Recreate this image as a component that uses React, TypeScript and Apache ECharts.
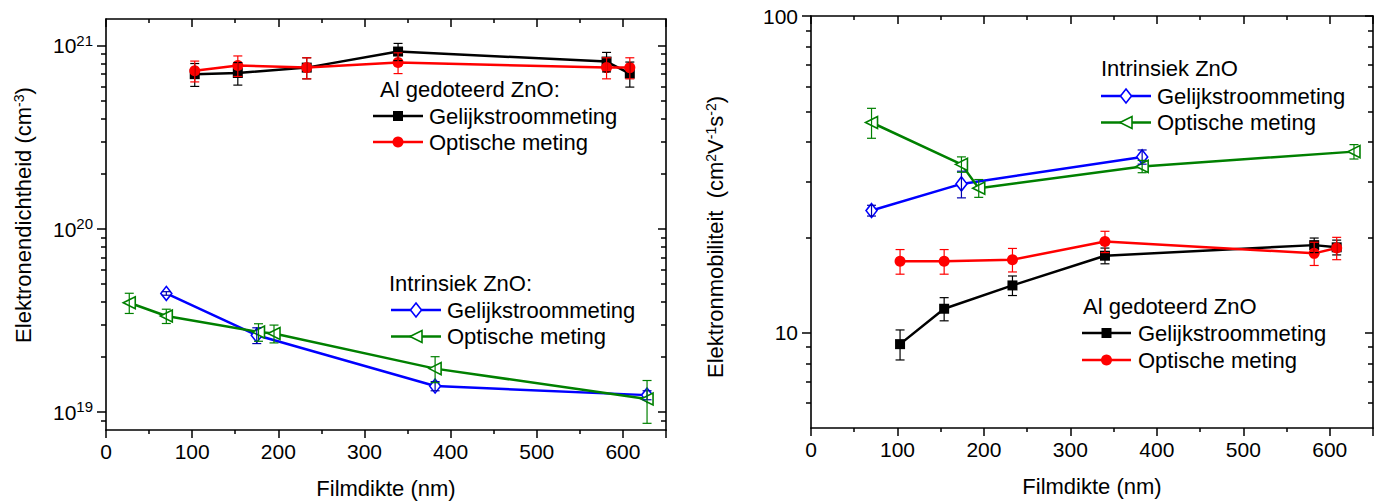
import React, { useEffect, useRef } from 'react';
import * as echarts from 'echarts';

const FONT = '"Liberation Sans", Arial, Helvetica, sans-serif';

// ---------- Left panel: electron density (cm^-3) ----------
const alThickness = [103, 153, 233, 339, 581, 608];
const alDcDensity = [7.0e20, 7.1e20, 7.6e20, 9.3e20, 8.2e20, 7.05e20];
const alDcDensityErr = [1.0e20, 1.0e20, 1.0e20, 1.0e20, 1.0e20, 1.1e20];
const alOptDensity = [7.3e20, 7.8e20, 7.6e20, 8.1e20, 7.6e20, 7.6e20];
const alOptDensityErr = [0.95e20, 1.0e20, 1.0e20, 1.05e20, 1.0e20, 1.0e20];

const inDcThicknessL = [70, 175, 382, 628];
const inDcDensity = [4.45e19, 2.63e19, 1.39e19, 1.24e19];
const inDcDensityErr = [0.1e19, 0.26e19, 0.08e19, 0.07e19];
const inOptThicknessL = [27, 70, 177, 195, 382, 628];
const inOptDensity = [3.96e19, 3.35e19, 2.74e19, 2.69e19, 1.73e19, 1.18e19];
const inOptDensityErr = [0.5e19, 0.3e19, 0.3e19, 0.3e19, 0.28e19, 0.31e19];

// ---------- Right panel: electron mobility (cm^2 V^-1 s^-1) ----------
const alThicknessR = [103, 154, 233, 340, 582, 608];
const alDcMobility = [9.2, 11.9, 14.1, 17.5, 18.9, 18.6];
const alDcMobilityErr = [1.0, 1.0, 1.0, 1.0, 1.0, 1.0];
const alOptMobility = [16.8, 16.8, 17.0, 19.4, 17.8, 18.5];
const alOptMobilityErr = [1.5, 1.5, 1.45, 1.5, 1.5, 1.5];

const inDcThicknessR = [70, 174, 383];
const inDcMobility = [24.3, 29.5, 35.9];
const inDcMobilityErr = [0.95, 2.85, 1.85];
const inOptThicknessR = [70, 174, 194, 383, 628];
const inOptMobility = [46.1, 34.0, 28.6, 33.5, 37.3];
const inOptMobilityErr = [5.0, 1.9, 1.85, 1.5, 1.95];

// ---------- Axis ticks ----------
const densityMajorTicks = [1e19, 1e20, 1e21];
const densityMinorTicks = [9e18, 2e19, 3e19, 4e19, 5e19, 6e19, 7e19, 8e19, 9e19, 2e20, 3e20, 4e20, 5e20, 6e20, 7e20, 8e20, 9e20];
const mobilityMajorTicks = [10, 100];
const mobilityMinorTicks = [6, 7, 8, 9, 20, 30, 40, 50, 60, 70, 80, 90];

const BLACK = '#000000';
const RED = '#ff0000';
const BLUE = '#0000ff';
const GREEN = '#008000';

const pairs = (xs: number[], ys: number[]) => xs.map((x, i) => [x, ys[i]]);
const errData = (xs: number[], ys: number[], es: number[]) =>
  xs.map((x, i) => [x, ys[i], ys[i] - es[i], ys[i] + es[i]]);

type Marker = 'square' | 'circle' | 'diamond' | 'triangle';

function lineSeries(name: string, xs: number[], ys: number[], g: number, color: string, marker: Marker) {
  const base: any = {
    type: 'line',
    name,
    xAxisIndex: g * 2,
    yAxisIndex: g * 4,
    data: pairs(xs, ys),
    lineStyle: { color, width: 2.5 },
    itemStyle: { color },
    showSymbol: true,
    symbol: 'rect',
    symbolSize: 10,
    z: 2,
  };
  if (marker === 'circle') {
    base.symbol = 'circle';
    base.symbolSize = 11;
  } else if (marker === 'diamond') {
    base.symbol = 'diamond';
    base.symbolSize = [11, 14];
    base.itemStyle = { color: '#ffffff', borderColor: color, borderWidth: 1.6 };
  } else if (marker === 'triangle') {
    base.symbol = 'triangle';
    base.symbolSize = 12;
    base.symbolRotate = 90;
    base.itemStyle = { color: '#ffffff', borderColor: color, borderWidth: 1.6 };
  }
  return base;
}

function errorSeries(xs: number[], ys: number[], es: number[], g: number, color: string) {
  return {
    type: 'custom',
    xAxisIndex: g * 2,
    yAxisIndex: g * 4,
    data: errData(xs, ys, es),
    encode: { x: 0, y: 1 },
    z: 3,
    silent: true,
    renderItem: (params: any, api: any) => {
      const x = api.value(0);
      const lo = api.coord([x, api.value(2)]);
      const hi = api.coord([x, api.value(3)]);
      const w = 4.5;
      const style = { stroke: color, lineWidth: 1.2, fill: 'none' };
      return {
        type: 'group',
        children: [
          { type: 'line', shape: { x1: lo[0], y1: lo[1], x2: hi[0], y2: hi[1] }, style },
          { type: 'line', shape: { x1: lo[0] - w, y1: lo[1], x2: lo[0] + w, y2: lo[1] }, style },
          { type: 'line', shape: { x1: hi[0] - w, y1: hi[1], x2: hi[0] + w, y2: hi[1] }, style },
        ],
      };
    },
  };
}

const axisLineStyle = { color: '#000', width: 1.6 };

function xAxes(g: number) {
  const common: any = {
    type: 'value',
    gridIndex: g,
    min: 0,
    max: 650,
    interval: 100,
    splitLine: { show: false },
    minorSplitLine: { show: false },
    axisLine: { show: true, lineStyle: axisLineStyle },
    minorTick: { show: true, splitNumber: 2, length: 4, lineStyle: { color: '#000', width: 1.5 } },
  };
  return [
    {
      ...common,
      position: 'bottom',
      axisTick: { show: true, inside: false, length: 8, lineStyle: { color: '#000', width: 1.5 } },
      axisLabel: { show: true, fontSize: 21, color: '#000', fontFamily: FONT, margin: 11, showMaxLabel: false },
      name: 'Filmdikte (nm)',
      nameLocation: 'middle',
      nameGap: 47,
      nameTextStyle: { fontSize: 22, color: '#000', fontFamily: FONT },
    },
    {
      ...common,
      position: 'top',
      axisTick: { show: true, inside: true, length: 8, lineStyle: { color: '#000', width: 1.5 } },
      axisLabel: { show: false },
    },
  ];
}

function yAxes(g: number, min: number, max: number, major: number[], minor: number[], formatter: any, rich: any) {
  const common: any = {
    type: 'log',
    logBase: 10,
    gridIndex: g,
    min,
    max,
    splitLine: { show: false },
    minorTick: { show: false },
    minorSplitLine: { show: false },
  };
  const tickStyle = { color: '#000', width: 1.5 };
  return [
    {
      ...common,
      position: 'left',
      axisLine: { show: true, lineStyle: axisLineStyle },
      axisTick: { show: true, inside: false, length: 9, customValues: major, lineStyle: tickStyle },
      axisLabel: {
        show: true,
        customValues: major,
        formatter,
        rich,
        fontSize: 21,
        color: '#000',
        fontFamily: FONT,
        margin: 13,
      },
    },
    {
      ...common,
      position: 'left',
      axisLine: { show: false },
      axisTick: { show: true, inside: false, length: 5, customValues: minor, lineStyle: tickStyle },
      axisLabel: { show: false },
    },
    {
      ...common,
      position: 'right',
      axisLine: { show: true, lineStyle: axisLineStyle },
      axisTick: { show: true, inside: true, length: 8, customValues: major, lineStyle: tickStyle },
      axisLabel: { show: false },
    },
    {
      ...common,
      position: 'right',
      axisLine: { show: false },
      axisTick: { show: true, inside: true, length: 5, customValues: minor, lineStyle: tickStyle },
      axisLabel: { show: false },
    },
  ];
}

function legendBlock(
  title: string,
  titleX: number,
  titleY: number,
  lineX1: number,
  lineX2: number,
  textX: number,
  rows: { label: string; y: number; color: string; marker: Marker }[]
) {
  const els: any[] = [
    {
      type: 'text',
      x: titleX,
      y: titleY,
      style: { text: title, fontSize: 22, fontFamily: FONT, fill: '#000', align: 'left', verticalAlign: 'middle' },
    },
  ];
  rows.forEach((r) => {
    const mx = (lineX1 + lineX2) / 2;
    const y = r.y;
    els.push({
      type: 'line',
      shape: { x1: lineX1, y1: y, x2: lineX2, y2: y },
      style: { stroke: r.color, lineWidth: 2.5 },
    });
    if (r.marker === 'square') {
      els.push({ type: 'rect', shape: { x: mx - 5, y: y - 5, width: 10, height: 10 }, style: { fill: r.color } });
    } else if (r.marker === 'circle') {
      els.push({ type: 'circle', shape: { cx: mx, cy: y, r: 5.5 }, style: { fill: r.color } });
    } else if (r.marker === 'diamond') {
      els.push({
        type: 'polygon',
        shape: { points: [[mx, y - 7], [mx + 5.5, y], [mx, y + 7], [mx - 5.5, y]] },
        style: { fill: '#fff', stroke: r.color, lineWidth: 1.6 },
      });
    } else {
      els.push({
        type: 'polygon',
        shape: { points: [[mx - 6, y], [mx + 6, y - 6], [mx + 6, y + 6]] },
        style: { fill: '#fff', stroke: r.color, lineWidth: 1.6 },
      });
    }
    els.push({
      type: 'text',
      x: textX,
      y,
      style: { text: r.label, fontSize: 22, fontFamily: FONT, fill: '#000', align: 'left', verticalAlign: 'middle' },
    });
  });
  return els;
}

const supRich = {
  b: { fontSize: 21, fontFamily: FONT, color: '#000', lineHeight: 26 },
  s: { fontSize: 15, fontFamily: FONT, color: '#000', lineHeight: 15, verticalAlign: 'top' },
};

const nameRich = {
  s: { fontSize: 14, fontFamily: FONT, fill: '#000', lineHeight: 14, verticalAlign: 'top' },
};

export default function App() {
  const ref = useRef<HTMLDivElement>(null);

  useEffect(() => {
    if (!ref.current) return;
    const chart = echarts.init(ref.current, undefined, { renderer: 'svg' });

    const option: any = {
      animation: false,
      backgroundColor: '#ffffff',
      textStyle: { fontFamily: FONT },
      grid: [
        { left: 106, top: 19, width: 560, height: 411 },
        { left: 811, top: 16, width: 562, height: 412 },
      ],
      xAxis: [...xAxes(0), ...xAxes(1)],
      yAxis: [
        ...yAxes(
          0,
          8e18,
          1.4e21,
          densityMajorTicks,
          densityMinorTicks,
          (v: number) => `{b|10}{s|${Math.round(Math.log10(v))}}`,
          supRich
        ),
        ...yAxes(1, 5, 100, mobilityMajorTicks, mobilityMinorTicks, (v: number) => `${Math.round(v)}`, undefined),
      ],
      series: [
        // left panel
        lineSeries('Gelijkstroommeting', alThickness, alDcDensity, 0, BLACK, 'square'),
        errorSeries(alThickness, alDcDensity, alDcDensityErr, 0, BLACK),
        lineSeries('Optische meting', alThickness, alOptDensity, 0, RED, 'circle'),
        errorSeries(alThickness, alOptDensity, alOptDensityErr, 0, RED),
        lineSeries('Gelijkstroommeting', inDcThicknessL, inDcDensity, 0, BLUE, 'diamond'),
        errorSeries(inDcThicknessL, inDcDensity, inDcDensityErr, 0, '#0000b0'),
        lineSeries('Optische meting', inOptThicknessL, inOptDensity, 0, GREEN, 'triangle'),
        errorSeries(inOptThicknessL, inOptDensity, inOptDensityErr, 0, GREEN),
        // right panel
        lineSeries('Gelijkstroommeting', alThicknessR, alDcMobility, 1, BLACK, 'square'),
        errorSeries(alThicknessR, alDcMobility, alDcMobilityErr, 1, BLACK),
        lineSeries('Optische meting', alThicknessR, alOptMobility, 1, RED, 'circle'),
        errorSeries(alThicknessR, alOptMobility, alOptMobilityErr, 1, RED),
        lineSeries('Gelijkstroommeting', inDcThicknessR, inDcMobility, 1, BLUE, 'diamond'),
        errorSeries(inDcThicknessR, inDcMobility, inDcMobilityErr, 1, '#0000b0'),
        lineSeries('Optische meting', inOptThicknessR, inOptMobility, 1, GREEN, 'triangle'),
        errorSeries(inOptThicknessR, inOptMobility, inOptMobilityErr, 1, GREEN),
      ],
      graphic: [
        // y-axis names
        {
          type: 'text',
          x: 23,
          y: 215,
          rotation: Math.PI / 2,
          style: {
            text: 'Elektronendichtheid (cm{s|-3})',
            rich: nameRich,
            fontSize: 22,
            fontFamily: FONT,
            fill: '#000',
            align: 'center',
            verticalAlign: 'middle',
          },
        },
        {
          type: 'text',
          x: 715,
          y: 237,
          rotation: Math.PI / 2,
          style: {
            text: 'Elektronmobiliteit  (cm{s|2}V{s|-1}s{s|-2})',
            rich: nameRich,
            fontSize: 22,
            fontFamily: FONT,
            fill: '#000',
            align: 'center',
            verticalAlign: 'middle',
          },
        },
        ...legendBlock('Al gedoteerd ZnO:', 380, 89, 373, 423, 429, [
          { label: 'Gelijkstroommeting', y: 116, color: BLACK, marker: 'square' },
          { label: 'Optische meting', y: 142, color: RED, marker: 'circle' },
        ]),
        ...legendBlock('Intrinsiek ZnO:', 389, 283, 391, 441, 447, [
          { label: 'Gelijkstroommeting', y: 310, color: BLUE, marker: 'diamond' },
          { label: 'Optische meting', y: 336.5, color: GREEN, marker: 'triangle' },
        ]),
        ...legendBlock('Intrinsiek ZnO', 1101, 68.5, 1101, 1151, 1157, [
          { label: 'Gelijkstroommeting', y: 96, color: BLUE, marker: 'diamond' },
          { label: 'Optische meting', y: 122.5, color: GREEN, marker: 'triangle' },
        ]),
        ...legendBlock('Al gedoteerd ZnO', 1083, 306.5, 1082, 1131, 1138, [
          { label: 'Gelijkstroommeting', y: 333, color: BLACK, marker: 'square' },
          { label: 'Optische meting', y: 360, color: RED, marker: 'circle' },
        ]),
      ],
    };

    chart.setOption(option);
    return () => chart.dispose();
  }, []);

  return (
    <div
      ref={ref}
      style={{ position: 'fixed', left: 0, top: 0, width: 1379, height: 504, background: '#fff' }}
    />
  );
}
